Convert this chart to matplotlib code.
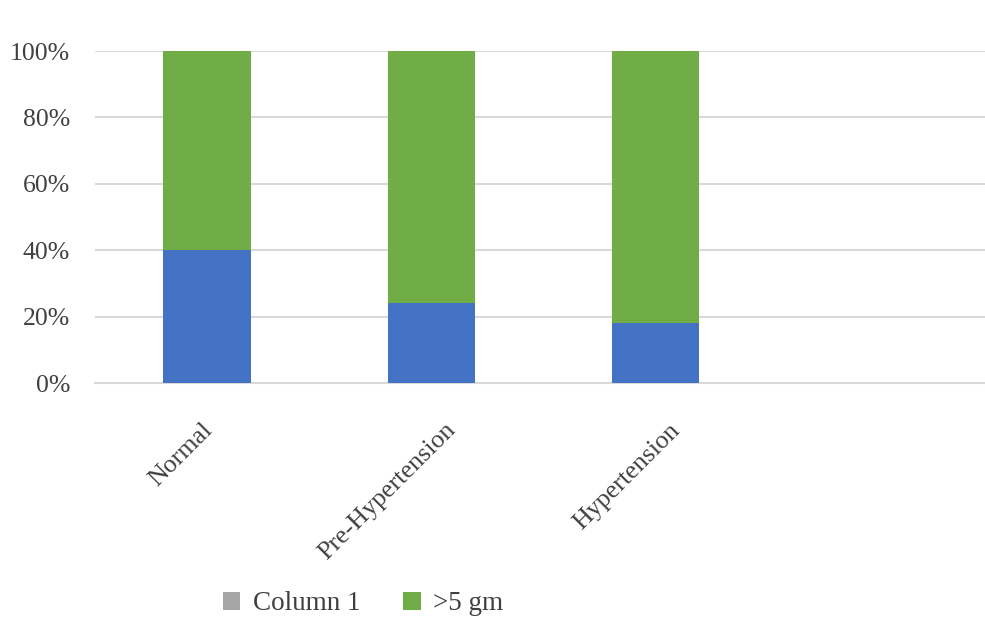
import matplotlib
matplotlib.use("Agg")
import matplotlib.pyplot as plt
from matplotlib.patches import Patch
from matplotlib.transforms import ScaledTranslation
import numpy as np

categories = ["Normal", "Pre-Hypertension", "Hypertension", ""]
below_5gm = [40, 24, 18, 0]       # blue segment (%)
above_5gm = [60, 76, 82, 0]       # green segment (%)
y_ticks = [0, 20, 40, 60, 80, 100]
legend_labels = ["Column 1", ">5 gm"]

BLUE = "#4472C4"
GREEN = "#70AD47"
GRAY = "#A5A5A5"
GRID = "#D9D9D9"
TEXT = "#404040"

plt.rcParams["font.family"] = ["Liberation Serif", "DejaVu Serif"]

fig = plt.figure(figsize=(9.85, 6.18), dpi=100)
ax = fig.add_axes([95 / 985, 235 / 618, 1 - 95 / 985, (383 - 51) / 618])

x = np.arange(len(categories))
width = 0.39
blue = np.array(below_5gm) / 100
green = np.array(above_5gm) / 100
ax.bar(x, blue, width, color=BLUE, zorder=3)
ax.bar(x, green, width, bottom=blue, color=GREEN, zorder=3)

ax.set_xlim(-0.5, 3.47)
ax.set_ylim(0, 1)
ax.set_yticks(np.array(y_ticks) / 100)
ax.set_yticklabels([f"{t}%" for t in y_ticks], fontsize=18.5, color=TEXT)
ax.yaxis.grid(True, color=GRID, linewidth=1.5, zorder=0)
ax.tick_params(axis="y", length=0, pad=18)

ax.set_xticks(x)
ax.set_xticklabels(categories, rotation=45, ha="right", va="center",
                   rotation_mode="anchor", fontsize=18.7, color=TEXT)
ax.tick_params(axis="x", length=0, pad=30)
# nudge the slanted category labels sideways (pixels)
label_nudge_px = [2, 21, 21, 0]
for lbl, dx in zip(ax.get_xticklabels(), label_nudge_px):
    lbl.set_transform(lbl.get_transform()
                      + ScaledTranslation(dx / 100, -2 / 100, fig.dpi_scale_trans))

for side in ["top", "right", "left"]:
    ax.spines[side].set_visible(False)
ax.spines["bottom"].set_color(GRID)
ax.spines["bottom"].set_linewidth(1.5)

handles = [Patch(facecolor=GRAY), Patch(facecolor=GREEN)]
fig.legend(handles, legend_labels, loc="center", bbox_to_anchor=(363 / 985, 1 - 604 / 618),
           ncol=2, frameon=False, fontsize=19.5, handlelength=0.65, handleheight=0.65,
           handletextpad=0.45, columnspacing=1.6, labelcolor=TEXT)

fig.savefig("out.png", dpi=100, facecolor="white")
